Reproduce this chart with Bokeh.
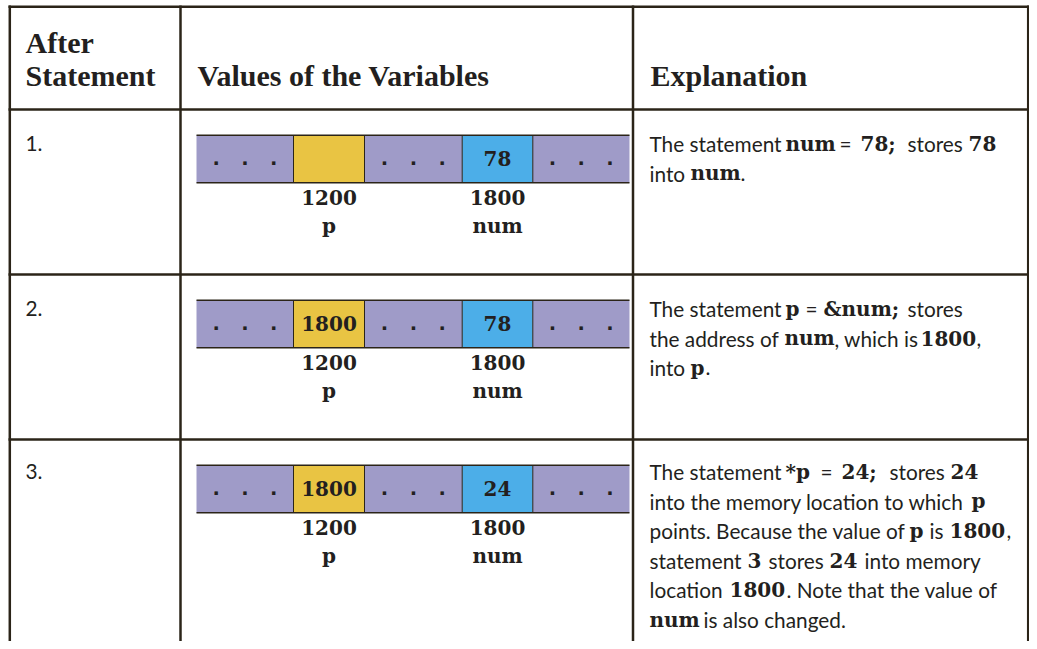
from bokeh.plotting import figure
from bokeh.models import Range1d
from bokeh.core.properties import value
from bokeh.embed import file_html
from bokeh.resources import INLINE

# ---------------- data ----------------
statements = ["1.", "2.", "3."]
cell_roles = ["gap", "p", "gap", "num", "gap"]
p_values = ["", "1800", "1800"]
num_values = ["78", "78", "24"]
var_addresses = ["1200", "1800"]
var_names = ["p", "num"]
header_left = ["After", "Statement"]
header_mid = "Values of the Variables"
header_right = "Explanation"

# explanation text: per row, per line, segments (text, kind, x-start)
# kind "s" = sans text, "m" = code text
explanations = [
    [
        [("The statement", "s", 649), ("num", "m", 785), ("=", "s", 839),
         ("78;", "m", 860), ("stores", "s", 907), ("78", "m", 968)],
        [("into", "s", 649), ("num", "m", 690), (".", "s", 740)],
    ],
    [
        [("The statement", "s", 649), ("p", "m", 785), ("=", "s", 805),
         ("&num;", "m", 823), ("stores", "s", 907)],
        [("the address of", "s", 649), ("num", "m", 784), (", which is", "s", 834),
         ("1800", "m", 920), (",", "s", 976)],
        [("into", "s", 649), ("p", "m", 690), (".", "s", 705)],
    ],
    [
        [("The statement", "s", 649), ("*p", "m", 785), ("=", "s", 820),
         ("24;", "m", 841), ("stores", "s", 889), ("24", "m", 950)],
        [("into the memory location to which", "s", 649), ("p", "m", 971)],
        [("points. Because the value of", "s", 649), ("p", "m", 909), ("is", "s", 929),
         ("1800", "m", 949), (",", "s", 1006)],
        [("statement", "s", 649), ("3", "m", 747), ("stores", "s", 768),
         ("24", "m", 829), ("into memory", "s", 864)],
        [("location", "s", 649), ("1800", "m", 729), (". Note that the value of", "s", 786)],
        [("num", "m", 649), ("is also changed.", "s", 703)],
    ],
]

# ---------------- layout / style ----------------
FIG_W, FIG_H = 1029, 641
TEXT_DY = -8          # compensation for where the svg text baseline lands
LINE_C = "#2b2418"
TEXT_C = "#231f20"
role_colors = {"gap": "#9f9bc8", "p": "#e9c443", "num": "#4caee8"}

col_x = [9.3, 180, 632.5, FIG_W - 1.3]
table_left, table_right = 8, FIG_W
header_bottom = 109
row_h = 165
row_tops = [header_bottom + i * row_h for i in range(len(statements))]
row_text_dy = [0, 0, -2]

strip_left = 196
cell_widths = [97, 71, 97.7, 70.6, 96.7]
strip_top_off, strip_bot_off = 25.7, 73.3
line_step = 29.6

SANS = value("Lato")
CODE = value("DejaVu Serif")
MONO = value("Liberation Mono")
SERIF = value("Liberation Serif")
SANS_SIZE = "20.8px"
CODE_SIZE = "20px"

p = figure(width=FIG_W, height=FIG_H, output_backend="svg", toolbar_location=None,
           x_range=Range1d(0, FIG_W), y_range=Range1d(FIG_H, 0),
           x_axis_location=None, y_axis_location=None, min_border=0,
           outline_line_color=None, background_fill_color="white",
           border_fill_color="white")
p.xgrid.visible = False
p.ygrid.visible = False

# ---------- table rules ----------
h_ys = [6.2] + row_tops
p.segment(x0=[table_left] * len(h_ys), x1=[table_right] * len(h_ys), y0=h_ys, y1=h_ys,
          line_color=LINE_C, line_width=2.5)
p.segment(x0=col_x, x1=col_x, y0=[5] * len(col_x), y1=[FIG_H] * len(col_x),
          line_color=LINE_C, line_width=2.5)

# ---------- headers ----------
hdy = TEXT_DY - 2
p.text(x=[25, 25, 197, 650], y=[51.7 + hdy, 85 + hdy, 85 + hdy, 85 + hdy],
       text=header_left + [header_mid, header_right],
       text_font=SERIF, text_font_style="bold", text_font_size="30px",
       text_color=TEXT_C, text_baseline="alphabetic", text_align="left")

# ---------- row numbers ----------
p.text(x=[25] * len(statements),
       y=[t + 42 + TEXT_DY + d for t, d in zip(row_tops, row_text_dy)], text=statements,
       text_font=SANS, text_font_size=SANS_SIZE, text_color=TEXT_C,
       text_baseline="alphabetic", text_align="left")

# ---------- memory strips ----------
edges = [strip_left]
for w in cell_widths:
    edges.append(edges[-1] + w)
centers = [(edges[i] + edges[i + 1]) / 2 for i in range(len(cell_widths))]

ql, qr, qt, qb, qc = [], [], [], [], []
vx, vy, vt = [], [], []
dx, dy, dt = [], [], []
lx, ly, lt = [], [], []
sep_x0, sep_y0, sep_y1 = [], [], []
for r, top in enumerate(row_tops):
    st, sb = top + strip_top_off, top + strip_bot_off
    for i, role in enumerate(cell_roles):
        ql.append(edges[i]); qr.append(edges[i + 1]); qt.append(st); qb.append(sb)
        qc.append(role_colors[role])
        if role == "gap":
            dx.append(centers[i]); dy.append(top + 57 + TEXT_DY); dt.append(". . .")
        else:
            txt = p_values[r] if role == "p" else num_values[r]
            vx.append(centers[i]); vy.append(top + 56.5 + TEXT_DY); vt.append(txt)
    for i in range(1, len(cell_widths)):
        sep_x0.append(edges[i]); sep_y0.append(st); sep_y1.append(sb)
    for k, role in enumerate(["p", "num"]):
        cx = centers[cell_roles.index(role)]
        lx += [cx, cx]
        ly += [top + 96 + TEXT_DY, top + 124 + TEXT_DY]
        lt += [var_addresses[k], var_names[k]]

p.quad(left=ql, right=qr, top=qt, bottom=qb, fill_color=qc, line_color=None)
p.segment(x0=sep_x0, x1=sep_x0, y0=sep_y0, y1=sep_y1, line_color=LINE_C, line_width=1)
hy = [t + strip_top_off for t in row_tops] + [t + strip_bot_off for t in row_tops]
p.segment(x0=[strip_left] * len(hy), x1=[edges[-1]] * len(hy), y0=hy, y1=hy,
          line_color=LINE_C, line_width=1.5)
p.text(x=dx, y=dy, text=dt, text_font=MONO, text_font_style="bold",
       text_font_size="24px", text_color=TEXT_C, text_baseline="alphabetic",
       text_align="center")
p.text(x=vx, y=vy, text=vt, text_font=CODE, text_font_style="bold",
       text_font_size=CODE_SIZE, text_color=TEXT_C, text_baseline="alphabetic",
       text_align="center")
p.text(x=lx, y=ly, text=lt, text_font=CODE, text_font_style="bold",
       text_font_size=CODE_SIZE, text_color=TEXT_C, text_baseline="alphabetic",
       text_align="center")

# ---------- explanations ----------
sx, sy, stt = [], [], []
mx, my, mt = [], [], []
for r, lines in enumerate(explanations):
    for li, segs in enumerate(lines):
        y = row_tops[r] + 42 + li * line_step + TEXT_DY + row_text_dy[r]
        for txt, kind, x in segs:
            if kind == "s":
                sx.append(x); sy.append(y); stt.append(txt)
            else:
                mx.append(x); my.append(y); mt.append(txt)

p.text(x=sx, y=sy, text=stt, text_font=SANS, text_font_size=SANS_SIZE,
       text_color=TEXT_C, text_baseline="alphabetic", text_align="left")
p.text(x=mx, y=my, text=mt, text_font=CODE, text_font_style="bold",
       text_font_size=CODE_SIZE, text_color=TEXT_C, text_baseline="alphabetic",
       text_align="left")

open("out.html", "w").write(file_html(p, INLINE))
